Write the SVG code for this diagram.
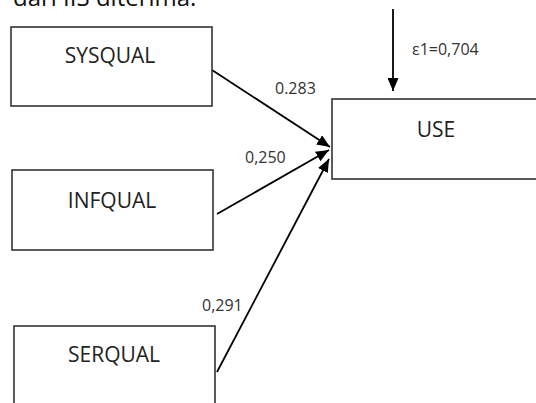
<svg xmlns="http://www.w3.org/2000/svg" width="536" height="403" viewBox="0 0 536 403">
  <defs>
    <marker id="arrow" viewBox="0 0 13 11" refX="13" refY="5.5" markerWidth="13" markerHeight="11" markerUnits="userSpaceOnUse" orient="auto">
      <path d="M0,0 L13,5.5 L0,11 Z" fill="#000"/>
    </marker>
    <style>
      .box { fill: #fff; stroke: #333; stroke-width: 1.6; }
      .label { font-family: "Open Sans", "Liberation Sans", sans-serif; font-size: 21px; fill: #222; text-anchor: middle; }
      .coef { font-family: "Open Sans", "Liberation Sans", sans-serif; font-size: 16px; fill: #333; }
      .edge { stroke: #000; stroke-width: 1.8; fill: none; marker-end: url(#arrow); }
      .caption { font-family: "Open Sans", "Liberation Sans", sans-serif; font-size: 24px; fill: #111; }
    </style>
  </defs>
  <rect width="536" height="403" fill="#fff"/>

  <!-- caption line, clipped at top edge -->
  <text class="caption" x="13" y="6">dari IIS diterima.</text>

  <!-- connectors -->
  <g id="connectors">
    <line class="edge" x1="393" y1="9" x2="393" y2="91"/>
    <line class="edge" x1="212" y1="70" x2="330" y2="147"/>
    <line class="edge" x1="217" y1="214" x2="329" y2="150"/>
    <line class="edge" x1="217" y1="372" x2="329" y2="159"/>
  </g>

  <!-- path coefficients -->
  <g id="coefficients">
    <text class="coef" x="412" y="55">ε1=0,704</text>
    <text class="coef" x="275" y="94">0.283</text>
    <text class="coef" x="245" y="163">0,250</text>
    <text class="coef" x="202" y="311">0,291</text>
  </g>

  <g id="sysqual">
    <rect class="box" x="11" y="27" width="201" height="79"/>
    <text class="label" x="110" y="63">SYSQUAL</text>
  </g>

  <g id="infqual">
    <rect class="box" x="12" y="170" width="201" height="80"/>
    <text class="label" x="112" y="208">INFQUAL</text>
  </g>

  <g id="serqual">
    <rect class="box" x="14" y="326" width="201" height="90"/>
    <text class="label" x="114" y="362">SERQUAL</text>
  </g>

  <g id="use">
    <rect class="box" x="332" y="99" width="210" height="80"/>
    <text class="label" x="436" y="137">USE</text>
  </g>
</svg>
